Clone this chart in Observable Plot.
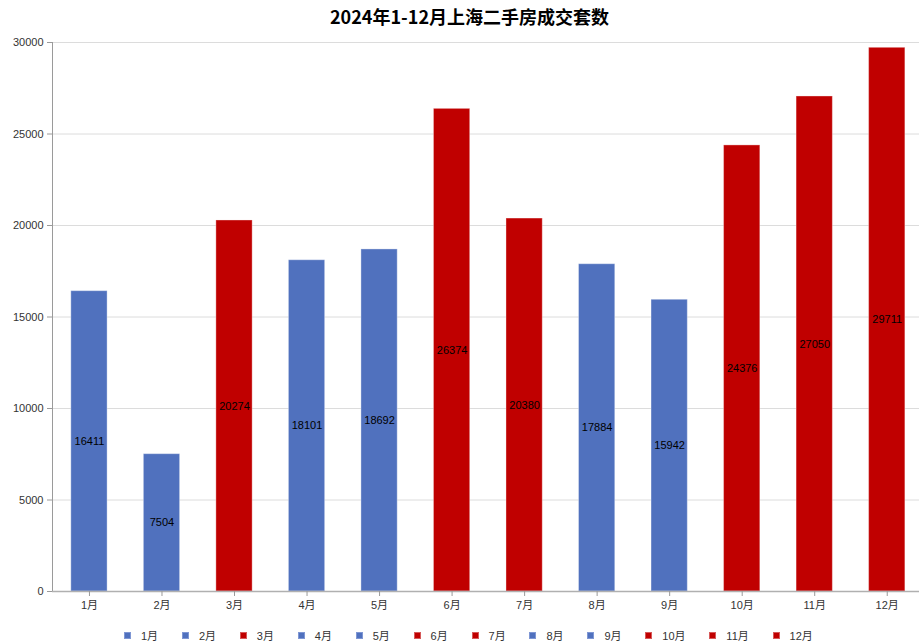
<!DOCTYPE html>
<html>
<head>
<meta charset="utf-8">
<script src="https://cdn.jsdelivr.net/npm/d3@7"></script>
<script src="https://cdn.jsdelivr.net/npm/@observablehq/plot@0.6"></script>
<style>
  html, body { margin: 0; padding: 0; background: #fff; }
  body { width: 919px; height: 643px; overflow: hidden; position: relative;
         font-family: "Liberation Sans", "Noto Sans CJK SC", sans-serif; }
  #title { height: 30px; line-height: 32px; text-align: center; font-size: 18px; font-weight: bold;
           font-family: "Noto Sans CJK SC", sans-serif; color: #000; padding-left: 20px; }
  #legend { position: absolute; left: 124px; top: 627px; display: flex; align-items: center;
            font-size: 11px; color: #333; white-space: nowrap; }
  .item { display: flex; align-items: center; margin-right: 23.8px; }
  .sw { width: 7px; height: 7px; margin-right: 10px; box-sizing: border-box; }
  svg text { font-family: "Liberation Sans", "Noto Sans CJK SC", sans-serif; }
</style>
</head>
<body>
<div id="title"></div>
<div id="chart"></div>
<div id="legend"></div>
<script>
const title = "2024年1-12月上海二手房成交套数";
const months = ["1月","2月","3月","4月","5月","6月","7月","8月","9月","10月","11月","12月"];
const values = [16411, 7504, 20274, 18101, 18692, 26374, 20380, 17884, 15942, 24376, 27050, 29711];
const yTicks = [0, 5000, 10000, 15000, 20000, 25000, 30000];

const BLUE = "#5071be";
const RED = "#c00000";
const threshold = 20000;
const colorOf = v => v >= threshold ? RED : BLUE;

const data = months.map((m, i) => ({month: m, value: values[i]}));

document.getElementById("title").textContent = title;

const chart = Plot.plot({
  width: 919,
  height: 600,
  marginTop: 12,
  marginBottom: 39,
  marginLeft: 52,
  marginRight: 0,
  style: {fontSize: "11px", color: "#333", background: "#fff", overflow: "visible"},
  x: {domain: months, range: [52.7, 923], paddingInner: 0.5, paddingOuter: 0.25, round: false, label: null},
  y: {domain: [0, 30000], label: null},
  marks: [
    Plot.gridY(yTicks, {stroke: "#dcdcdc", strokeOpacity: 1}),
    Plot.barY(data, {x: "month", y: "value", fill: d => colorOf(d.value),
                     stroke: "#fff", strokeOpacity: 0.35, strokeWidth: 1}),
    Plot.text(data, {x: "month", y: d => d.value / 2, text: d => String(d.value),
                     fill: "#000", fontSize: 11}),
    Plot.frame({anchor: "left", stroke: "#9a9a9a"}),
    Plot.ruleY([0], {stroke: "#b0b0b0", strokeWidth: 1.5}),
    Plot.axisY(yTicks, {tickSize: 5, tickPadding: 4, stroke: "#9a9a9a", fill: "#333",
                        tickFormat: d => String(d), label: null}),
    Plot.axisX({tickSize: 5, tickPadding: 5, stroke: "#9a9a9a", fill: "#333", label: null})
  ]
});
document.getElementById("chart").appendChild(chart);

const legend = document.getElementById("legend");
data.forEach(d => {
  const item = document.createElement("div");
  item.className = "item";
  const sw = document.createElement("div");
  sw.className = "sw";
  sw.style.background = colorOf(d.value);
  sw.style.border = "1px solid " + (colorOf(d.value) === RED ? "#d65a5a" : "#7f97d4");
  const lab = document.createElement("span");
  lab.textContent = d.month;
  item.appendChild(sw);
  item.appendChild(lab);
  legend.appendChild(item);
});
</script>
</body>
</html>
